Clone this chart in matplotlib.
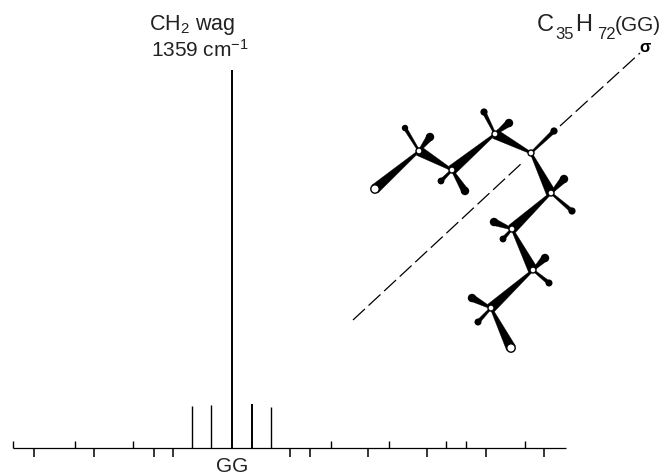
import numpy as np
import matplotlib
matplotlib.use('Agg')
from matplotlib import pyplot as plt
from matplotlib.patches import Polygon, Circle

plt.rcParams['font.family'] = ['Liberation Sans', 'DejaVu Sans']
plt.rcParams['mathtext.fontset'] = 'custom'
plt.rcParams['mathtext.rm'] = 'Liberation Sans'
plt.rcParams['mathtext.default'] = 'regular'

baseline = 448
axis_span = [13, 566]
up_ticks = [13, 75, 133, 331, 389, 446, 466, 525]
down_ticks = [34, 94, 154, 173, 290, 310, 368, 427, 486, 544]
line_pos = [192, 211, 232, 252, 271]
line_heights = [42, 43, 378, 44, 41]
line_widths = [1.0, 1.0, 1.4, 1.4, 1.0]

carbon_x = [375, 419, 452, 495, 531, 551, 512, 533, 491, 511]
carbon_y = [189, 151, 170, 134, 153, 193, 229, 270, 308, 348]
# 1 = wide end on the first atom, 0 = wide end on the second
wide_first = [1, 1, 1, 1, 0, 0, 0, 0, 0]

# carbon index, hydrogen x, hydrogen y, ball radius
h_carbon = [1, 1, 2, 2, 3, 3, 4, 5, 5, 6, 6, 7, 7, 8, 8]
h_x = [405, 430, 441, 465, 484, 509, 554, 564, 572, 494, 503, 545, 549, 472, 478]
h_y = [128, 137, 181, 191, 112, 123, 131, 179, 211, 222, 239, 258, 283, 298, 322]
h_r = [3.2, 4.2, 3.4, 4.2, 3.6, 4.2, 3.6, 4.2, 3.6, 4.2, 3.4, 4.2, 3.5, 4.2, 3.5]

dash1_x = [353, 523]
dash1_y = [320, 162]
dash2_x = [560, 640]
dash2_y = [126, 53]


def wedge(ax, x0, y0, x1, y1, w0, w1):
    d = np.array([x1 - x0, y1 - y0], dtype=float)
    n = np.array([-d[1], d[0]]) / np.hypot(d[0], d[1])
    a = np.array([x0, y0])
    b = np.array([x1, y1])
    pts = [a + n * w0 / 2, b + n * w1 / 2, b - n * w1 / 2, a - n * w0 / 2]
    ax.add_patch(Polygon(pts, closed=True, fc='k', ec='k', lw=0.2, zorder=2))


fig = plt.figure(figsize=(6.62, 4.75), dpi=100)
ax = fig.add_axes([0, 0, 1, 1])
ax.set_xlim(0, 662)
ax.set_ylim(475, 0)
ax.axis('off')

# spectrum
ax.plot(axis_span, [baseline, baseline], color='k', lw=0.9, solid_capstyle='butt')
ax.vlines(up_ticks, baseline - 7, baseline, color='k', lw=1.0)
ax.vlines(down_ticks, baseline, baseline + 9, color='k', lw=1.1)
for x, h, w in zip(line_pos, line_heights, line_widths):
    ax.vlines(x, baseline - h, baseline, color='k', lw=w)

# chain
for i in range(len(carbon_x) - 1):
    w0, w1 = (10, 2) if wide_first[i] else (2, 10)
    wedge(ax, carbon_x[i], carbon_y[i], carbon_x[i + 1], carbon_y[i + 1], w0, w1)

for c, x, y, r in zip(h_carbon, h_x, h_y, h_r):
    wedge(ax, carbon_x[c], carbon_y[c], x, y, 2, r * (1.7 if r > 4 else 1.1))
    ax.add_patch(Circle((x, y), r, fc='k', ec='k', lw=0, zorder=3))

for i in range(len(carbon_x)):
    r = 4.2 if i in (0, len(carbon_x) - 1) else 3.0
    ax.add_patch(Circle((carbon_x[i], carbon_y[i]), r, fc='w', ec='k', lw=1.0, zorder=4))

# symmetry axis
dash = (0, (13, 4))
ax.plot(dash1_x, dash1_y, color='k', lw=0.9, ls=dash)
ax.plot(dash2_x, dash2_y, color='k', lw=0.9, ls=dash)

# labels
ink = '#222222'
ax.text(192.5, 25, r'CH$_2$ wag', fontsize=15.5, ha='center', va='center', color=ink)
ax.text(200, 50, r'1359 cm$^{-1}$', fontsize=15, ha='center', va='center', color=ink)
ax.text(232, 466, 'GG', fontsize=15, ha='center', va='center', color=ink)
ax.text(537, 31, 'C', fontsize=17, ha='left', va='baseline', color=ink)
ax.text(555, 39, '35', fontsize=12, ha='left', va='baseline', color=ink)
ax.text(575, 31, 'H', fontsize=17, ha='left', va='baseline', color=ink)
ax.text(597, 39, '72', fontsize=12, ha='left', va='baseline', color=ink)
ax.text(661, 31, '(GG)', fontsize=15, ha='right', va='baseline', color=ink)
ax.text(645, 47, 'σ', fontsize=12, ha='center', va='center', fontweight='bold', color='k')

fig.savefig('out.png', dpi=100)
